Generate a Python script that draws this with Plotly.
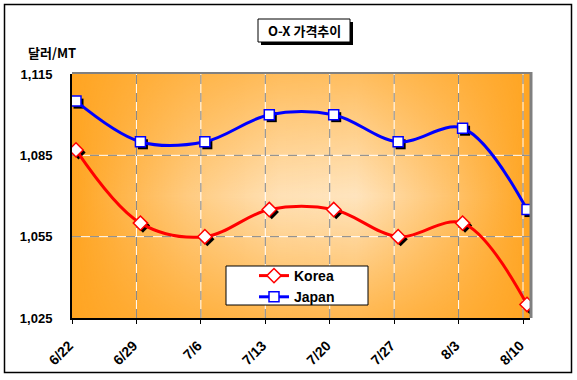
import base64
import plotly.graph_objects as go

# ---- data ----
dates = ["6/22", "6/29", "7/6", "7/13", "7/20", "7/27", "8/3", "8/10"]
korea = [1087, 1060, 1055, 1065, 1065, 1055, 1060, 1030]
japan = [1105, 1090, 1090, 1100, 1100, 1090, 1095, 1065]
y_ticks = [1025, 1055, 1085, 1115]
y_tick_text = ["1,025", "1,055", "1,085", "1,115"]

W, H = 577, 380
L, R, T, B = 72, 530, 74, 318  # plot area in px
PW, PH = R - L, B - T

def px(x):
    return (x - L) / PW

def py(y):
    return (B - y) / PH

idx = list(range(len(dates)))
ppu = 64.43
off = 4 / ppu
x_range = [-off, (PW - 4) / ppu]
tickvals = [i - off for i in idx]  # gridlines slightly left of markers (as in original)
y_range = [1025, 1115]
yppu = PH / (y_range[1] - y_range[0])

# marker shadow offsets (2.5 px right/down)
sdx = 2.5 / ppu
sdy = -2.5 / yppu

# ---- background gradient (svg) ----
svg = f'''<svg xmlns="http://www.w3.org/2000/svg" width="{PW}" height="{PH}" viewBox="0 0 {PW} {PH}" preserveAspectRatio="none">
<defs>
<linearGradient id="h" x1="0" y1="0" x2="1" y2="0">
<stop offset="0" stop-color="#FFE4BE" stop-opacity="0"/>
<stop offset="0.25" stop-color="#FFE4BE" stop-opacity="0.6"/>
<stop offset="0.45" stop-color="#FFE4BE" stop-opacity="0.95"/>
<stop offset="0.62" stop-color="#FFE4BE" stop-opacity="1"/>
<stop offset="0.82" stop-color="#FFE4BE" stop-opacity="0.5"/>
<stop offset="1" stop-color="#FFE4BE" stop-opacity="0"/>
</linearGradient>
<linearGradient id="v" x1="0" y1="0" x2="0" y2="1">
<stop offset="0" stop-color="white" stop-opacity="0.4"/>
<stop offset="0.5" stop-color="white" stop-opacity="1"/>
<stop offset="1" stop-color="white" stop-opacity="0.3"/>
</linearGradient>
<mask id="m"><rect x="0" y="0" width="{PW}" height="{PH}" fill="url(#v)"/></mask>
</defs>
<rect x="0" y="0" width="{PW}" height="{PH}" fill="#FFA522"/>
<rect x="0" y="0" width="{PW}" height="{PH}" fill="url(#h)" mask="url(#m)"/>
</svg>'''
src = "data:image/svg+xml;base64," + base64.b64encode(svg.encode()).decode()

fig = go.Figure()

# marker shadows
fig.add_trace(go.Scatter(x=[i + sdx for i in idx], y=[v + sdy for v in korea], mode="markers",
                         marker=dict(symbol="diamond", size=11, color="black"),
                         showlegend=False, hoverinfo="skip"))
fig.add_trace(go.Scatter(x=[i + sdx for i in idx], y=[v + sdy for v in japan], mode="markers",
                         marker=dict(symbol="square", size=10, color="black"),
                         showlegend=False, hoverinfo="skip"))

fig.add_trace(go.Scatter(x=idx, y=korea, name="Korea", mode="lines+markers",
                         line=dict(color="#FF0000", width=3, shape="spline", smoothing=1),
                         marker=dict(symbol="diamond", size=11, color="white",
                                     line=dict(color="#FF0000", width=1.5))))
fig.add_trace(go.Scatter(x=idx, y=japan, name="Japan", mode="lines+markers",
                         line=dict(color="#0000FF", width=3, shape="spline", smoothing=1),
                         marker=dict(symbol="square", size=10, color="white",
                                     line=dict(color="#0000FF", width=1.5))))

shapes = []
# gridlines: white base + gray dashes
for color, dash in (("white", "solid"), ("#808080", "dash")):
    for tv in tickvals[1:]:
        shapes.append(dict(type="line", xref="x", yref="paper", x0=tv, x1=tv, y0=0, y1=1,
                           line=dict(color=color, width=1, dash=dash), layer="between"))
    for yv in y_ticks[1:-1]:
        shapes.append(dict(type="line", xref="paper", yref="y", x0=0, x1=1, y0=yv, y1=yv,
                           line=dict(color=color, width=1, dash=dash), layer="between"))
# plot frame top/right gray
shapes.append(dict(type="line", xref="paper", yref="paper", x0=0, x1=px(R + 1), y0=py(T - 1), y1=py(T - 1),
                   line=dict(color="#808080", width=2)))
shapes.append(dict(type="line", xref="paper", yref="paper", x0=px(R + 1), x1=px(R + 1), y0=0, y1=py(T - 2),
                   line=dict(color="#808080", width=3)))
# outer border
shapes.append(dict(type="rect", xref="paper", yref="paper", x0=px(4.5), x1=px(571.5), y0=py(372.5), y1=py(4.5),
                   line=dict(color="black", width=1.5), fillcolor="rgba(0,0,0,0)"))
# title box shadow + box
shapes.append(dict(type="rect", xref="paper", yref="paper", x0=px(261), x1=px(353), y0=py(45), y1=py(22),
                   line=dict(width=0), fillcolor="black"))
shapes.append(dict(type="rect", xref="paper", yref="paper", x0=px(258), x1=px(350), y0=py(42), y1=py(19),
                   line=dict(color="black", width=1), fillcolor="white"))
# legend box
shapes.append(dict(type="rect", xref="paper", yref="paper", x0=px(226), x1=px(368), y0=py(305), y1=py(266),
                   line=dict(color="black", width=1), fillcolor="white"))

annotations = [
    dict(text="O-X 가격추이", xref="paper", yref="paper", x=px(304), y=py(31), showarrow=False,
         xanchor="center", yanchor="middle",
         font=dict(family="Noto Sans CJK KR", size=13, color="black", weight="bold")),
    dict(text="달러/MT", xref="paper", yref="paper", x=px(26), y=py(52), showarrow=False,
         xanchor="left", yanchor="middle",
         font=dict(family="Noto Sans CJK KR", size=13, color="black", weight="bold")),
]

fig.update_layout(
    width=W, height=H,
    margin=dict(l=L, r=W - R, t=T, b=H - B, pad=0, autoexpand=False),
    paper_bgcolor="white",
    plot_bgcolor="rgba(0,0,0,0)",
    images=[dict(source=src, xref="paper", yref="paper", x=0, y=1, sizex=1, sizey=1,
                 xanchor="left", yanchor="top", sizing="stretch", layer="below")],
    shapes=shapes,
    annotations=annotations,
    showlegend=True,
    legend=dict(x=px(254), y=py(260), xanchor="left", yanchor="top",
                bgcolor="rgba(0,0,0,0)", borderwidth=0,
                font=dict(family="Liberation Sans", size=14, color="black", weight="bold"),
                tracegroupgap=0, itemwidth=30),
    font=dict(family="Liberation Sans", color="black"),
)

fig.update_xaxes(range=x_range, tickvals=tickvals, ticktext=dates, tickangle=-45,
                 showgrid=False, automargin=False,
                 showline=True, linecolor="black", linewidth=2,
                 ticks="outside", ticklen=4, tickcolor="black",
                 ticklabelshift=-3, ticklabelstandoff=8,
                 tickfont=dict(family="Liberation Sans", size=14, color="black", weight="bold"),
                 zeroline=False, fixedrange=True)
fig.update_yaxes(range=y_range, tickvals=y_ticks, ticktext=y_tick_text,
                 showgrid=False, automargin=False,
                 showline=True, linecolor="black", linewidth=2, ticks="", ticklabelstandoff=15,
                 tickfont=dict(family="Liberation Sans", size=13, color="black", weight="bold"),
                 zeroline=False, fixedrange=True)

fig.write_html("out.html")
